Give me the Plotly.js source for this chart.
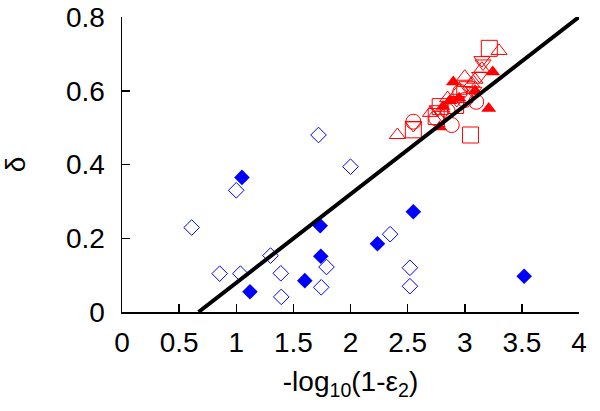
<!DOCTYPE html>
<html>
<head>
<meta charset="utf-8">
<script src="https://cdn.plot.ly/plotly-3.0.1.min.js"></script>
<style>html,body{margin:0;padding:0;background:#fff;}#chart{width:600px;height:411px;}</style>
</head>
<body>
<div id="chart"></div>
<script>
// Blue open diamonds
const blueOpenX = [1.00, 0.61, 0.855, 1.036, 1.30, 1.39, 1.394, 1.72, 2.00, 1.79, 1.744, 2.347, 2.52, 2.52];
const blueOpenY = [0.330, 0.229, 0.104, 0.104, 0.153, 0.105, 0.041, 0.480, 0.394, 0.122, 0.067, 0.211, 0.120, 0.070];
// Blue filled diamonds
const blueFillX = [1.05, 1.12, 1.735, 1.74, 1.60, 2.236, 2.55, 3.52];
const blueFillY = [0.365, 0.055, 0.234, 0.151, 0.085, 0.185, 0.272, 0.097];
// Red filled triangles
const redFillX = [2.90, 3.245, 3.09, 2.87, 2.81, 3.21, 2.78, 2.95];
const redFillY = [0.624, 0.651, 0.600, 0.573, 0.557, 0.552, 0.502, 0.580];
// Red open squares
const redSqX = [3.215, 3.05, 2.55, 2.785, 2.75, 3.00, 2.92];
const redSqY = [0.715, 0.480, 0.494, 0.557, 0.530, 0.590, 0.560];
// Red open triangles up
const redTriUpX = [3.30, 2.41, 3.00, 3.09, 3.06, 2.70, 2.95, 3.15, 2.85];
const redTriUpY = [0.708, 0.480, 0.638, 0.630, 0.620, 0.540, 0.600, 0.660, 0.580];
// Red open triangles down
const redTriDnX = [3.15, 3.16, 2.55, 2.76, 2.80, 3.02, 3.08, 2.93, 3.13];
const redTriDnY = [0.683, 0.674, 0.507, 0.550, 0.535, 0.615, 0.600, 0.575, 0.640];
// Red open circles
const redCircX = [2.55, 2.96, 3.10, 2.886, 2.75, 3.00, 2.85];
const redCircY = [0.516, 0.597, 0.570, 0.507, 0.525, 0.575, 0.545];
// Fit line
const fitX = [0.67, 4.0];
const fitY = [0.0, 0.8];
// Ticks
const xTicks = [0, 0.5, 1, 1.5, 2, 2.5, 3, 3.5, 4];
const xTickText = ['0', '0.5', '1', '1.5', '2', '2.5', '3', '3.5', '4'];
const yTicks = [0, 0.2, 0.4, 0.6, 0.8];
const yTickText = ['0', '0.2', '0.4', '0.6', '0.8'];

const BLUE = '#0000FF', RED = '#FF0000';
function sc(x, y, symbol, color, size, filled) {
  return {
    x: x, y: y, type: 'scatter', mode: 'markers', showlegend: false, hoverinfo: 'skip',
    marker: {
      symbol: symbol, size: size,
      color: filled ? color : 'rgba(0,0,0,0)',
      line: {color: color, width: filled ? 0 : 1}
    }
  };
}
const traces = [
  sc(blueOpenX, blueOpenY, 'diamond', BLUE, 12, false),
  sc(blueFillX, blueFillY, 'diamond', BLUE, 12, true),
  sc(redSqX, redSqY, 'square', RED, 16, false),
  sc(redTriUpX, redTriUpY, 'triangle-up', RED, 14, false),
  sc(redTriDnX, redTriDnY, 'triangle-down', RED, 14, false),
  sc(redCircX, redCircY, 'circle', RED, 15, false),
  sc(redFillX, redFillY, 'triangle-up', RED, 13, true),
  {x: fitX, y: fitY, type: 'scatter', mode: 'lines', showlegend: false, hoverinfo: 'skip',
   line: {color: '#000', width: 4}}
];
const font = {family: 'Liberation Sans, Arial, sans-serif', size: 28, color: '#000'};
const layout = {
  width: 600, height: 411,
  margin: {l: 121.5, r: 21, t: 17, b: 99},
  paper_bgcolor: '#fff', plot_bgcolor: '#fff',
  font: font,
  showlegend: false,
  xaxis: {
    range: [0, 4], tickvals: xTicks, ticktext: xTickText,
    ticks: 'inside', ticklen: 8, tickwidth: 1.5, tickcolor: '#000',
    showline: true, linecolor: '#000', linewidth: 1.5, showgrid: false, zeroline: false,
    tickfont: font, ticklabelstandoff: 5,
    title: {text: '-log<sub>10</sub>(1-ε<sub>2</sub>)', font: font, standoff: 14}
  },
  yaxis: {
    range: [0, 0.8], tickvals: yTicks, ticktext: yTickText,
    ticks: 'inside', ticklen: 8, tickwidth: 1.5, tickcolor: '#000',
    showline: true, linecolor: '#000', linewidth: 1.5, showgrid: false, zeroline: false,
    tickfont: font, ticklabelstandoff: 10,
    title: {text: 'δ', font: font, standoff: 33}
  }
};
Plotly.newPlot('chart', traces, layout, {staticPlot: true, displayModeBar: false});
</script>
</body>
</html>
